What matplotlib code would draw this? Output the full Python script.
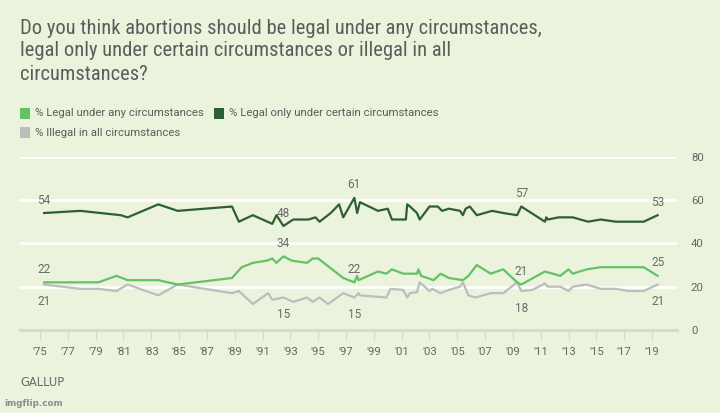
import matplotlib
matplotlib.use('Agg')
import matplotlib.pyplot as plt
from matplotlib import font_manager
from matplotlib.patches import Rectangle

anni_certe = [1975.3, 1977.9, 1980.8, 1981.3, 1983.5, 1984.9, 1988.8, 1989.3, 1990.3,
              1991.7, 1992.0, 1992.5, 1993.2, 1994.3, 1994.8, 1995.1, 1995.9, 1996.5,
              1996.8, 1997.6, 1997.8, 1998.0, 1999.3, 2000.0, 2000.3, 2001.3, 2001.4,
              2001.6, 2002.1, 2002.3, 2003.0, 2003.6, 2003.9, 2004.4, 2005.2, 2005.4,
              2005.6, 2005.9, 2006.4, 2007.5, 2008.3, 2009.3, 2009.6, 2011.3, 2011.4,
              2011.5, 2012.3, 2013.3, 2014.4, 2015.3, 2016.4, 2018.4, 2019.4]
legale_certe = [54, 55, 53, 52, 58, 55, 57, 50, 53,
                49, 53, 48, 51, 51, 52, 50, 54, 58,
                52, 61, 54, 59, 55, 56, 51, 51, 58,
                57, 54, 51, 57, 57, 55, 56, 55, 53,
                56, 57, 53, 55, 54, 53, 57, 50, 52,
                51, 52, 52, 50, 51, 50, 50, 53]

anni_sempre = [1975.3, 1977.9, 1979.2, 1980.5, 1981.3, 1983.5, 1984.9, 1988.8, 1989.5,
               1990.3, 1991.3, 1991.7, 1992.0, 1992.5, 1993.1, 1994.2, 1994.6, 1995.0,
               1995.4, 1996.8, 1997.6, 1997.8, 1997.9, 1999.3, 1999.9, 2000.3, 2001.1,
               2002.1, 2002.2, 2002.4, 2003.3, 2003.8, 2004.4, 2005.4, 2005.8, 2006.4,
               2007.4, 2008.3, 2009.3, 2009.6, 2011.3, 2012.4, 2013.0, 2013.3, 2014.3,
               2015.3, 2018.4, 2019.4]
legale_sempre = [22, 22, 22, 25, 23, 23, 21, 24, 29,
                 31, 32, 33, 31, 34, 32, 31, 33, 33,
                 31, 24, 22, 25, 23, 27, 26, 28, 26,
                 26, 28, 25, 23, 26, 24, 23, 25, 30,
                 26, 28, 22, 21, 27, 25, 28, 26, 28,
                 29, 29, 25]

anni_illegale = [1975.3, 1977.9, 1979.2, 1980.5, 1981.3, 1983.5, 1984.9, 1988.8, 1989.3,
                 1990.3, 1991.4, 1991.7, 1992.5, 1993.2, 1994.2, 1994.6, 1995.1, 1995.7,
                 1996.8, 1997.6, 1997.9, 1998.0, 1999.9, 2000.2, 2001.1, 2001.4, 2001.6,
                 2002.1, 2002.3, 2003.0, 2003.2, 2003.8, 2004.4, 2005.2, 2005.4, 2005.8,
                 2006.3, 2007.4, 2008.3, 2009.3, 2009.6, 2010.4, 2011.3, 2011.5, 2012.4,
                 2013.0, 2013.3, 2014.3, 2015.3, 2016.4, 2017.3, 2018.4, 2019.4]
illegale = [21, 19, 19, 18, 21, 16, 21, 17, 18,
            12, 17, 14, 15, 13, 15, 13, 15, 12,
            17, 15, 17, 16, 15, 19, 18.5, 15, 17,
            17.5, 22, 18, 19, 17, 18.5, 20, 22, 16,
            15, 17, 17, 22, 18, 18.5, 21.5, 20, 20,
            18, 20, 21, 19, 19, 18, 18, 21]

anni_tick = list(range(1975, 2020, 2))
etichette_tick = ["'%02d" % (a % 100) for a in anni_tick]
y_tick = [0, 20, 40, 60, 80]

# etichette dei valori: (anno, valore, sopra/sotto)
etichette_valori = [
    (1975.3, 54, 1), (1975.3, 22, 1), (1975.3, 21, -1),
    (1992.5, 48, 1), (1992.5, 34, 1), (1992.5, 15, -1),
    (1997.6, 61, 1), (1997.6, 22, 1), (1997.6, 15, -1),
    (2009.6, 57, 1), (2009.6, 21, 1), (2009.6, 18, -1),
    (2019.4, 53, 1), (2019.4, 25, 1), (2019.4, 21, -1),
]

sfondo = '#ebf3dd'
verde_scuro = '#2e5e37'
verde_chiaro = '#63c263'
grigio = '#bdbdbd'
testo = '#5c5c5c'

nomi = {f.name for f in font_manager.fontManager.ttflist}
font_titolo = 'Roboto'
for n in ['Liberation Sans Narrow', 'Roboto Condensed', 'Open Sans Condensed']:
    if n in nomi:
        font_titolo = n
        break

W, H = 720, 413
fig = plt.figure(figsize=(W / 100, H / 100), dpi=100)
fig.patch.set_facecolor(sfondo)

def fx(px):
    return px / W

def fy(py):
    return 1 - py / H

# titolo
righe = ["Do you think abortions should be legal under any circumstances,",
         "legal only under certain circumstances or illegal in all",
         "circumstances?"]
for i, r in enumerate(righe):
    fig.text(fx(20), fy(28 + i * 23), r, family=font_titolo, fontsize=14.8,
             color=testo, va='center', ha='left')

# legenda costruita a mano
voci = [(20, 113.5, verde_chiaro, '% Legal under any circumstances'),
        (214, 113.5, verde_scuro, '% Legal only under certain circumstances'),
        (20, 132.5, grigio, '% Illegal in all circumstances')]
for x, y, c, t in voci:
    fig.patches.append(Rectangle((fx(x), fy(y + 5)), 10 / W, 10 / H,
                                 transform=fig.transFigure, color=c, lw=0))
    fig.text(fx(x + 15), fy(y), t, family='Roboto', fontsize=8.2, color=testo,
             va='center', ha='left')

ax = fig.add_axes([fx(20), fy(330), 657 / W, (330 - 156.7) / H])
ax.set_facecolor(sfondo)

ax.plot(anni_sempre, legale_sempre, color=verde_chiaro, lw=1.6, zorder=3)
ax.plot(anni_certe, legale_certe, color=verde_scuro, lw=1.6, zorder=3)
ax.plot(anni_illegale, illegale, color=grigio, lw=1.6, zorder=2)

for a, v, verso in etichette_valori:
    dy = 13 if verso > 0 else -17
    ax.annotate(str(v), (a, v), xytext=(0, dy), textcoords='offset pixels',
                ha='center', va='center', fontsize=8.5, color='#6a6a6a',
                family='Roboto', zorder=5)

ax.set_xlim(1975 + (20 - 40) / 13.91, 1975 + 637 / 13.91)
ax.set_ylim(0, 80)

for g in [20, 40, 60, 80]:
    ax.axhline(g, color='white', lw=1.8, zorder=1)

for s in ['top', 'left', 'right']:
    ax.spines[s].set_visible(False)
ax.spines['bottom'].set_color('#d5d8cf')
ax.spines['bottom'].set_linewidth(2)

ax.set_xticks(anni_tick)
ax.set_xticklabels(etichette_tick, family='Roboto', fontsize=8.2, color='#666666')
ax.tick_params(axis='x', length=7, width=1, color='#d5d8cf', pad=5)

ax.yaxis.tick_right()
ax.set_yticks(y_tick)
ax.set_yticklabels([str(v) for v in y_tick], family='Roboto', fontsize=8.2, color='#666666')
ax.tick_params(axis='y', length=0, pad=10)

fig.text(fx(20), fy(383), 'GALLUP', family='DejaVu Sans', fontsize=8.3,
         color='#6b6b6b', va='center', ha='left')
fig.text(fx(4), fy(404), 'imgflip.com', family='DejaVu Sans', fontsize=6.3,
         color='#8a8a8a', va='center', ha='left', weight='bold')

plt.savefig('out.png', dpi=100, facecolor=sfondo)
